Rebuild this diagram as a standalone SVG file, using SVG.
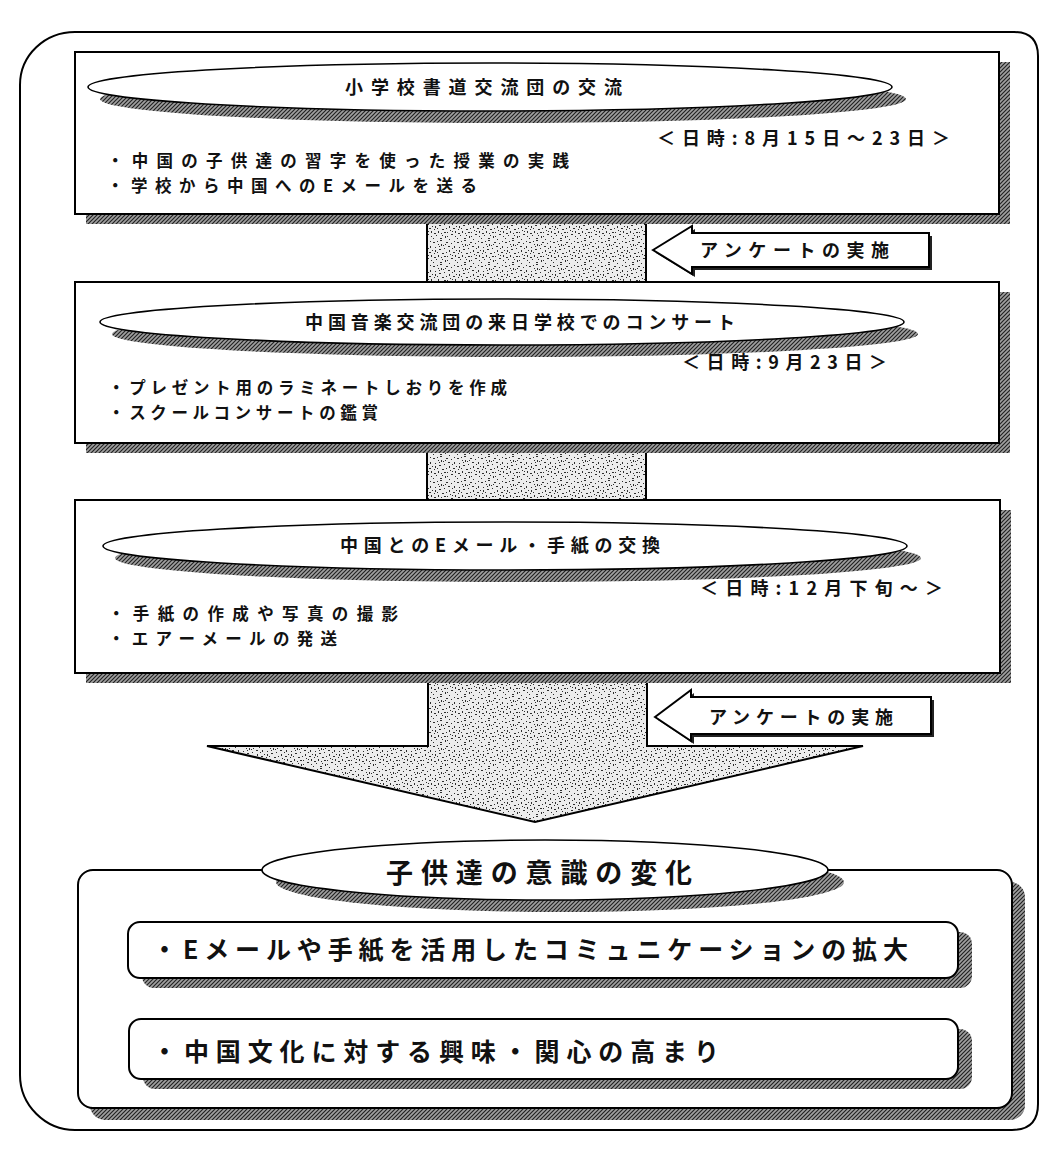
<svg xmlns="http://www.w3.org/2000/svg" width="1057" height="1155" viewBox="0 0 1057 1155">
<defs>
<pattern id="hatch" width="4" height="4" patternUnits="userSpaceOnUse">
<rect width="4" height="4" fill="#a0a0a0"/>
<path d="M0,4 L4,0 M-1,1 L1,-1 M3,5 L5,3" stroke="#222" stroke-width="1.2"/>
</pattern>
<pattern id="stip" width="24" height="24" patternUnits="userSpaceOnUse">
<rect width="24" height="24" fill="#ececec"/>
<g fill="#2e2e2e">
<rect x="1" y="2" width="2" height="1"/><rect x="5" y="1" width="1" height="1"/><rect x="9" y="4" width="1" height="2"/>
<rect x="14" y="2" width="2" height="1"/><rect x="19" y="3" width="1" height="1"/><rect x="22" y="6" width="1" height="2"/>
<rect x="3" y="7" width="1" height="1"/><rect x="7" y="9" width="2" height="1"/><rect x="12" y="8" width="1" height="1"/>
<rect x="17" y="10" width="1" height="2"/><rect x="21" y="12" width="2" height="1"/><rect x="2" y="13" width="1" height="1"/>
<rect x="6" y="15" width="1" height="2"/><rect x="10" y="13" width="2" height="1"/><rect x="15" y="16" width="1" height="1"/>
<rect x="19" y="18" width="2" height="1"/><rect x="23" y="20" width="1" height="1"/><rect x="4" y="19" width="1" height="1"/>
<rect x="8" y="22" width="2" height="1"/><rect x="13" y="20" width="1" height="2"/><rect x="17" y="23" width="1" height="1"/>
<rect x="11" y="5" width="1" height="1"/><rect x="16" y="6" width="2" height="1"/><rect x="0" y="10" width="1" height="1"/>
<rect x="20" y="15" width="1" height="1"/><rect x="6" y="4" width="1" height="1"/><rect x="14" y="12" width="1" height="1"/>
<rect x="9" y="17" width="1" height="1"/><rect x="1" y="22" width="1" height="1"/><rect x="22" y="1" width="1" height="1"/>
<rect x="3" y="10" width="1" height="2"/><rect x="8" y="0" width="2" height="1"/><rect x="18" y="14" width="1" height="1"/>
<rect x="12" y="16" width="2" height="1"/><rect x="5" y="12" width="1" height="1"/><rect x="20" y="8" width="1" height="1"/>
<rect x="15" y="20" width="1" height="1"/><rect x="10" y="19" width="1" height="1"/><rect x="2" y="17" width="2" height="1"/>
<rect x="23" y="15" width="1" height="2"/><rect x="13" y="4" width="1" height="1"/><rect x="7" y="6" width="1" height="1"/>
</g>
</pattern>
<style>
.frame{fill:#fff;stroke:#000;stroke-width:2}
.box{fill:#fff;stroke:#000;stroke-width:2}
.shadow{fill:url(#hatch);stroke:none}
.ell{fill:#fff;stroke:#000;stroke-width:1.6}
.stem{fill:url(#stip);stroke:#000;stroke-width:2}
.call{fill:#fff;stroke:#000;stroke-width:2;stroke-linejoin:miter}
.t{font-family:"Noto Sans CJK JP","Noto Sans",sans-serif;font-weight:700;fill:#111}
.s16{font-size:16.5px}
.s18{font-size:18px}
.s25{font-size:25px}
.s27{font-size:27px}
</style>
</defs>
<rect width="1057" height="1155" fill="#fff"/>
<path class="frame" d="M75,32 H1014 Q1038,32 1038,56 V1104 Q1038,1130 1012,1130 H75 C45,1130 20,1105 20,1075 V85 C20,55 45,32 75,32 Z"/>

<g id="connectors">
<rect x="427" y="220" width="219" height="66" fill="url(#stip)"/>
<path d="M427,220 V286 M646,220 V286" stroke="#000" stroke-width="2" fill="none"/>
<rect x="427" y="448" width="219" height="56" fill="url(#stip)"/>
<path d="M427,448 V504 M646,448 V504" stroke="#000" stroke-width="2" fill="none"/>
<polygon class="stem" points="428,678 647,678 647,746 863,746 535,822 207,746 428,746"/>
</g>

<g id="box1">
<rect class="shadow" x="86" y="62" width="924" height="162"/>
<rect class="box" x="75" y="52" width="924" height="162"/>
<ellipse class="shadow" cx="503" cy="99" rx="403" ry="24"/>
<ellipse class="ell" cx="490" cy="87" rx="402" ry="24"/>
<text class="t s18" x="345" y="93.5" textLength="277" lengthAdjust="spacing">小学校書道交流団の交流</text>
<text class="t s18" x="657" y="145" textLength="293" lengthAdjust="spacing">＜日時:8月15日～23日＞</text>
<text class="t s16" x="107" y="167" textLength="462" lengthAdjust="spacing">・中国の子供達の習字を使った授業の実践</text>
<text class="t s16" x="107" y="191.5" textLength="370" lengthAdjust="spacing">・学校から中国へのEメールを送る</text>
</g>

<g id="survey1">
<polygon fill="#222" points="656,253 695,229 695,236 932,236 932,270 695,270 695,277"/>
<polygon class="call" points="653,250 692,226 692,233 929,233 929,267 692,267 692,274"/>
<text class="t s18" x="700" y="256.5" textLength="189" lengthAdjust="spacing">アンケートの実施</text>
</g>

<g id="box2">
<rect class="shadow" x="86" y="292" width="924" height="161"/>
<rect class="box" x="75" y="282" width="924" height="161"/>
<ellipse class="shadow" cx="515" cy="334" rx="403" ry="23"/>
<ellipse class="ell" cx="502" cy="322" rx="402" ry="23"/>
<text class="t s18" x="305" y="328.5" textLength="430" lengthAdjust="spacing">中国音楽交流団の来日学校でのコンサート</text>
<text class="t s18" x="682" y="369" textLength="205" lengthAdjust="spacing">＜日時:9月23日＞</text>
<text class="t s16" x="108" y="394" textLength="399" lengthAdjust="spacing">・プレゼント用のラミネートしおりを作成</text>
<text class="t s16" x="108" y="418.5" textLength="270" lengthAdjust="spacing">・スクールコンサートの鑑賞</text>
</g>

<g id="box3">
<rect class="shadow" x="86" y="510" width="925" height="173"/>
<rect class="box" x="75" y="500" width="925" height="173"/>
<ellipse class="shadow" cx="518" cy="558" rx="403" ry="24"/>
<ellipse class="ell" cx="505" cy="546" rx="402" ry="24"/>
<text class="t s18" x="340" y="552" textLength="320" lengthAdjust="spacing">中国とのEメール・手紙の交換</text>
<text class="t s18" x="700" y="595" textLength="243" lengthAdjust="spacing">＜日時:12月下旬～＞</text>
<text class="t s16" x="108" y="620" textLength="290" lengthAdjust="spacing">・手紙の作成や写真の撮影</text>
<text class="t s16" x="108" y="644.5" textLength="229" lengthAdjust="spacing">・エアーメールの発送</text>
</g>

<g id="survey2">
<polygon fill="#222" points="658,720 694,693 694,700 934,700 934,737 694,737 694,744"/>
<polygon class="call" points="655,717 691,690 691,697 931,697 931,734 691,734 691,741"/>
<text class="t s18" x="709" y="723.5" textLength="184" lengthAdjust="spacing">アンケートの実施</text>
</g>

<g id="result">
<rect class="shadow" x="90" y="882" width="935" height="238" rx="15"/>
<rect class="box" x="78" y="870" width="934" height="238" rx="15"/>
<ellipse class="shadow" cx="560" cy="882" rx="284" ry="30"/>
<ellipse class="ell" cx="545" cy="870" rx="283" ry="30"/>
<text class="t s27" x="386" y="883" textLength="306" lengthAdjust="spacing">子供達の意識の変化</text>
</g>

<g id="resultA">
<rect class="shadow" x="142" y="932" width="830" height="56" rx="12"/>
<rect class="box" x="128" y="922" width="830" height="56" rx="12"/>
<text class="t s25" x="152" y="959" textLength="756" lengthAdjust="spacing">・Eメールや手紙を活用したコミュニケーションの拡大</text>
</g>

<g id="resultB">
<rect class="shadow" x="143" y="1029" width="829" height="60" rx="12"/>
<rect class="box" x="129" y="1019" width="829" height="60" rx="12"/>
<text class="t s25" x="152" y="1061" textLength="567" lengthAdjust="spacing">・中国文化に対する興味・関心の高まり</text>
</g>
</svg>
